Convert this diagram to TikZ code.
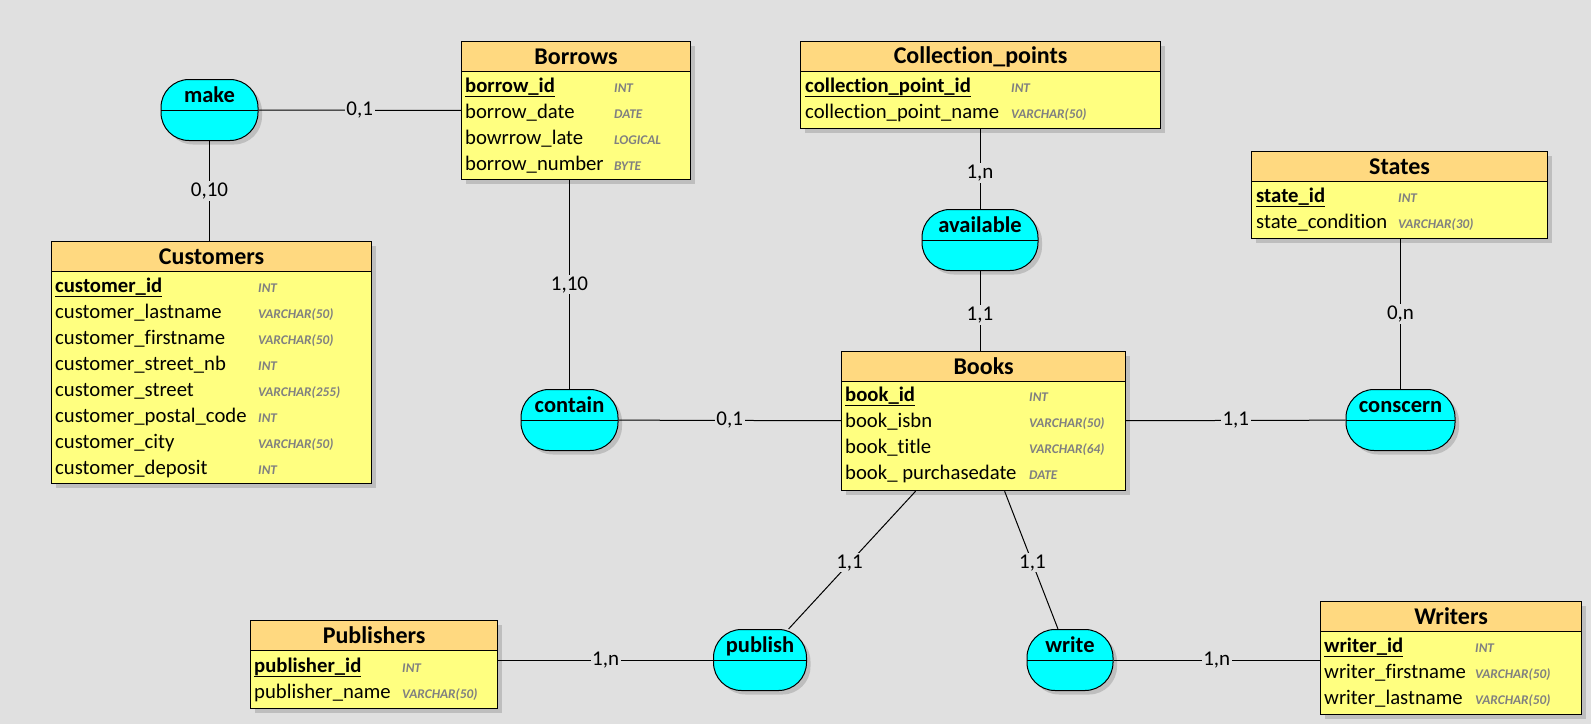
\documentclass[tikz,border=0pt]{standalone}
\usepackage{fontspec}
\setmainfont{Carlito}[Ligatures=NoCommon]
\usepackage{tikz}
\usetikzlibrary{positioning, arrows.meta, shadows}
\usepackage{xcolor}
\definecolor{bggray}{RGB}{224,224,224}
\definecolor{headyellow}{RGB}{255,217,128}
\definecolor{bodyyellow}{RGB}{255,255,128}
\definecolor{assoccyan}{RGB}{0,255,255}
\definecolor{typegray}{RGB}{128,128,128}
\tikzset{tbl/.style={draw, line width=1.2pt, fill=bodyyellow, anchor=north west, inner sep=0pt,
           drop shadow={shadow xshift=4pt, shadow yshift=-4pt, fill=black, opacity=0.15}},
         tblhead/.style={draw, line width=1.2pt, fill=headyellow, anchor=north west, inner sep=0pt,
           minimum height=30pt, font=\fontsize{24}{28}\selectfont\bfseries},
         attr/.style={anchor=base west, inner sep=0pt, font=\fontsize{20.7}{24}\selectfont},
         pk/.style={anchor=base west, inner sep=0pt, font=\fontsize{20.7}{24}\selectfont\bfseries},
         dtype/.style={anchor=base west, inner sep=0pt, text=typegray,
           font=\fontsize{13.3}{15}\selectfont\bfseries\itshape},
         assoc/.style={draw, line width=1pt, fill=assoccyan, rounded corners=28pt, minimum height=61pt,
           text height=14pt, text depth=30pt, font=\fontsize{22.5}{26}\selectfont\bfseries,
           drop shadow={shadow xshift=4pt, shadow yshift=-4pt, fill=black, opacity=0.15},
           path picture={\draw[line width=1pt] (path picture bounding box.west) -- (path picture bounding box.east);}},
         link/.style={line width=1pt},
         card/.style={fill=bggray, inner sep=1.5pt, font=\fontsize{21}{25}\selectfont}}

\begin{document}
\begin{tikzpicture}[x=1pt, y=-1pt]

        % Background
        \useasboundingbox (0,0) rectangle (1591,724);
        \fill[bggray] (0,0) rectangle (1591,724);

        % Borrows table
        \node[tbl, minimum width=229pt, minimum height=138pt] (borrows) at (461,41) {};
        \node[tblhead, minimum width=229pt] (borrowsh) at (borrows.north west) {Borrows};
        \node[pk] (borrows-a0) at (465,92) {\underline{borrow\_id}};
        \node[dtype] (borrows-t0) at (614,92) {INT};
        \foreach \nm/\ty [count=\i] in {borrow\_date/DATE, bowrrow\_late/LOGICAL, borrow\_number/BYTE}{
            \node[attr] (borrows-a\i) at (465,{92+26*\i}) {\nm};
            \node[dtype] (borrows-t\i) at (614,{92+26*\i}) {\ty};
        }

        % Collection_points table
        \node[tbl, minimum width=360pt, minimum height=87pt] (collection) at (800,41) {};
        \node[tblhead, minimum width=360pt] (collectionh) at (collection.north west) {Collection\_points};
        \node[pk] (collection-a0) at (805,92) {\underline{collection\_point\_id}};
        \node[dtype] (collection-t0) at (1011,92) {INT};
        \node[attr] (collection-a1) at (805,118) {collection\_point\_name};
        \node[dtype] (collection-t1) at (1011,118) {VARCHAR(50)};

        % States table
        \node[tbl, minimum width=296pt, minimum height=87pt] (states) at (1251,151) {};
        \node[tblhead, minimum width=296pt] (statesh) at (states.north west) {States};
        \node[pk] (states-a0) at (1256,202) {\underline{state\_id}};
        \node[dtype] (states-t0) at (1398,202) {INT};
        \node[attr] (states-a1) at (1256,228) {state\_condition};
        \node[dtype] (states-t1) at (1398,228) {VARCHAR(30)};

        % Customers table
        \node[tbl, minimum width=320pt, minimum height=242pt] (customers) at (51,241) {};
        \node[tblhead, minimum width=320pt] (customersh) at (customers.north west) {Customers};
        \node[pk] (customers-a0) at (55,292) {\underline{customer\_id}};
        \node[dtype] (customers-t0) at (258,292) {INT};
        \foreach \nm/\ty [count=\i] in {customer\_lastname/VARCHAR(50), customer\_firstname/VARCHAR(50),
            customer\_street\_nb/INT, customer\_street/VARCHAR(255), customer\_postal\_code/INT,
            customer\_city/VARCHAR(50), customer\_deposit/INT}{
            \node[attr] (customers-a\i) at (55,{292+26*\i}) {\nm};
            \node[dtype] (customers-t\i) at (258,{292+26*\i}) {\ty};
        }

        % Books table
        \node[tbl, minimum width=284pt, minimum height=139pt] (books) at (841,351) {};
        \node[tblhead, minimum width=284pt] (booksh) at (books.north west) {Books};
        \node[pk] (books-a0) at (845,401) {\underline{book\_id}};
        \node[dtype] (books-t0) at (1029,401) {INT};
        \foreach \nm/\ty [count=\i] in {book\_isbn/VARCHAR(50), book\_title/VARCHAR(64), book\_ purchasedate/DATE}{
            \node[attr] (books-a\i) at (845,{401+26*\i}) {\nm};
            \node[dtype] (books-t\i) at (1029,{401+26*\i}) {\ty};
        }

        % Publishers table
        \node[tbl, minimum width=247pt, minimum height=88pt] (publishers) at (250,620) {};
        \node[tblhead, minimum width=247pt] (publishersh) at (publishers.north west) {Publishers};
        \node[pk] (publishers-a0) at (254,672) {\underline{publisher\_id}};
        \node[dtype] (publishers-t0) at (402,672) {INT};
        \node[attr] (publishers-a1) at (254,698) {publisher\_name};
        \node[dtype] (publishers-t1) at (402,698) {VARCHAR(50)};

        % Writers table
        \node[tbl, minimum width=261pt, minimum height=113pt] (writers) at (1320,601) {};
        \node[tblhead, minimum width=261pt] (writersh) at (writers.north west) {Writers};
        \node[pk] (writers-a0) at (1324,652) {\underline{writer\_id}};
        \node[dtype] (writers-t0) at (1475,652) {INT};
        \foreach \nm/\ty [count=\i] in {writer\_firstname/VARCHAR(50), writer\_lastname/VARCHAR(50)}{
            \node[attr] (writers-a\i) at (1324,{652+26*\i}) {\nm};
            \node[dtype] (writers-t\i) at (1475,{652+26*\i}) {\ty};
        }

        % Associations
        \node[assoc, minimum width=97pt] (make) at (209.5,110) {make};
        \node[assoc, minimum width=97pt] (contain) at (569.5,420) {contain};
        \node[assoc, minimum width=116pt] (available) at (980,240) {available};
        \node[assoc, minimum width=109pt] (conscern) at (1400.5,420) {conscern};
        \node[assoc, minimum width=93pt] (publish) at (760,660) {publish};
        \node[assoc, minimum width=86pt] (write) at (1070,660) {write};

        % Links with cardinalities
        \draw[link] (make) -- node[card] {0,1} (borrows);
        \draw[link] (make) -- node[card] {0,10} (make |- customers.north);
        \draw[link] (contain |- borrows.south) -- node[card] {1,10} (contain);
        \draw[link] (contain) -- node[card] {0,1} (books);
        \draw[link] (available |- collection.south) -- node[card, pos=.55] {1,n} (available);
        \draw[link] (available) -- node[card, pos=.55] {1,1} (available |- books.north);
        \draw[link] (books) -- node[card] {1,1} (conscern);
        \draw[link] (conscern |- states.south) -- node[card] {0,n} (conscern);
        \coordinate (bookspub) at ([xshift=-68pt]books.south);
        \coordinate (bookswri) at ([xshift=21pt]books.south);
        \draw[link] (bookspub) -- node[card, pos=.52] {1,1} (publish);
        \draw[link] (bookswri) -- node[card, pos=.52] {1,1} (write);
        \draw[link] (publishers.east |- publish) -- node[card] {1,n} (publish);
        \draw[link] (write) -- node[card] {1,n} (write -| writers.west);

\end{tikzpicture}
\end{document}
